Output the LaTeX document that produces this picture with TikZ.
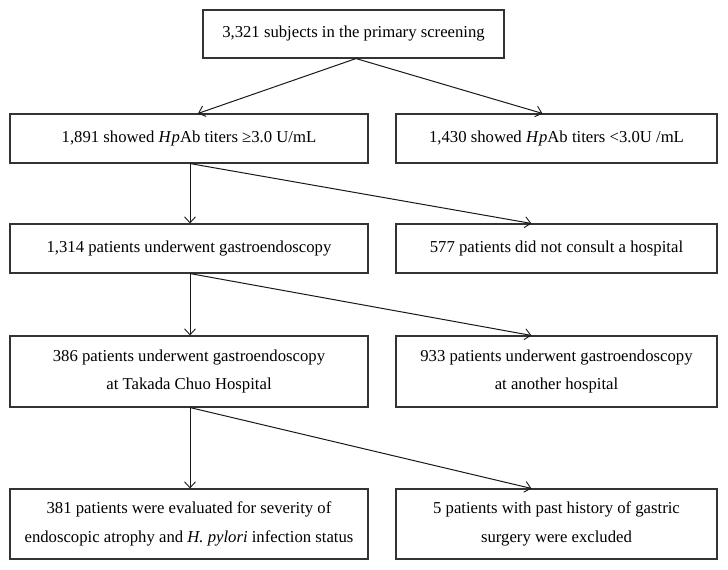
\documentclass[tikz,border=0pt]{standalone}
\usepackage{fontspec}
\setmainfont{Liberation Serif}
\usetikzlibrary{arrows.meta,calc}
\begin{document}
\begin{tikzpicture}[x=1pt,y=-1pt,
  box/.style={draw=black!80,line width=1.1pt,inner sep=0pt,align=center,font=\fontsize{16.7}{28.5}\selectfont},
  arr/.style={draw=black!90,line width=1pt,-{Straight Barb[length=6pt,width=11pt,line width=0.9pt]}}]
\useasboundingbox[fill=white] (0,0) rectangle (728,570);
\node[box,minimum width=301pt,minimum height=48pt] (top) at (353.5,34) {3,321 subjects in the primary screening};
\node[box,minimum width=358pt,minimum height=49pt] (b2l) at (189,138.5) {1,891 showed \textit{H\kern1pt p}Ab titers ≥3.0 U/mL};
\node[box,minimum width=321pt,minimum height=49pt] (b2r) at (556.5,138.5) {1,430 showed \textit{H\kern1pt p}Ab titers <3.0U /mL};
\node[box,minimum width=358pt,minimum height=49pt] (b3l) at (189,248.5) {1,314 patients underwent gastroendoscopy};
\node[box,minimum width=321pt,minimum height=49pt] (b3r) at (556.5,248.5) {577 patients did not consult a hospital};
\node[box,minimum width=358pt,minimum height=71pt] (b4l) at (189,371.5) {386 patients underwent gastroendoscopy\\at Takada Chuo Hospital};
\node[box,minimum width=321pt,minimum height=71pt] (b4r) at (556.5,371.5) {933 patients underwent gastroendoscopy\\at another hospital};
\node[box,minimum width=358pt,minimum height=70pt] (b5l) at (189,524) {381 patients were evaluated for severity of\\endoscopic atrophy and \textit{H. pylori} infection status};
\node[box,minimum width=321pt,minimum height=70pt] (b5r) at (556.5,524) {5 patients with past history of gastric\\surgery were excluded};
\draw[arr] ($(top.south)+(2.5,0)$) -- ($(b2l.north)+(9,0)$);
\draw[arr] ($(top.south)+(2.5,0)$) -- ($(b2r.north west)+(147,0)$);
\draw[arr] ($(b2l.south)+(1,0)$) -- ($(b3l.north)+(1,0)$);
\draw[arr] ($(b2l.south)+(1,0)$) -- ($(b3r.north west)+(136,0)$);
\draw[arr] ($(b3l.south)+(1,0)$) -- ($(b4l.north)+(1,0)$);
\draw[arr] ($(b3l.south)+(1,0)$) -- ($(b4r.north west)+(136,0)$);
\draw[arr] ($(b4l.south)+(1,0)$) -- ($(b5l.north)+(1,0)$);
\draw[arr] ($(b4l.south)+(1,0)$) -- ($(b5r.north west)+(136,0)$);
\end{tikzpicture}
\end{document}
